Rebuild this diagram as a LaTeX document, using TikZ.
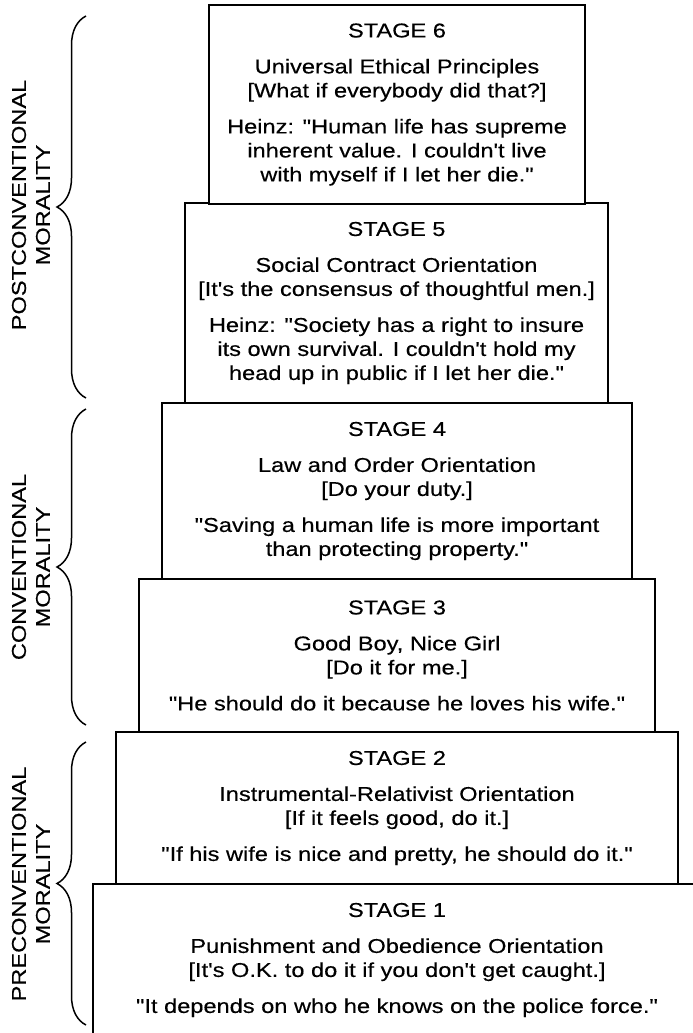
\documentclass[tikz,border=0pt]{standalone}
\usepackage{fontspec}
\newfontfamily\diagfont[FakeStretch=1.18,FakeBold=0.35]{Liberation Sans}
\usetikzlibrary{decorations.pathreplacing}
\begin{document}
\begin{tikzpicture}[x=1pt,y=-1pt,
  stagebox/.style={draw, line width=1.8pt, fill=white, align=center, inner sep=0pt,
    font=\diagfont\fontsize{20}{24}\selectfont},
  levellabel/.style={rotate=90, align=center, inner sep=0pt,
    font=\diagfont\fontsize{20}{24}\selectfont},
  levelbrace/.style={decorate, decoration={brace, amplitude=29pt}, line width=1.5pt}]
\path[use as bounding box] (0,0) rectangle (693,1033);
\clip (0,0) rectangle (693,1033);
\fill[white] (0,0) rectangle (693,1033);

% stages (bottom first so upper boxes sit on top)
\node[stagebox, minimum width=608pt, minimum height=152pt] (s1) at (397,960)
  {STAGE 1\\[12pt]Punishment and Obedience Orientation\\{[}It's O.K. to do it if you don't get caught.]\\[12pt]"It depends on who he knows on the police force."};
\node[stagebox, minimum width=562pt, minimum height=152pt] (s2) at (397,808)
  {STAGE 2\\[12pt]Instrumental-Relativist Orientation\\{[}If it feels good, do it.]\\[12pt]"If his wife is nice and pretty, he should do it."};
\node[stagebox, minimum width=516pt, minimum height=153pt] (s3) at (397,655.5)
  {STAGE 3\\[12pt]Good Boy, Nice Girl\\{[}Do it for me.]\\[12pt]"He should do it because he loves his wife."};
\node[stagebox, minimum width=470pt, minimum height=176pt] (s4) at (397,491)
  {STAGE 4\\[12pt]Law and Order Orientation\\{[}Do your duty.]\\[12pt]"Saving a human life is more important\\than protecting property."};
\node[stagebox, minimum width=423pt, minimum height=200pt] (s5) at (396.5,303)
  {STAGE 5\\[12pt]Social Contract Orientation\\{[}It's the consensus of thoughtful men.]\\[12pt]Heinz: "Society has a right to insure\\its own survival. I couldn't hold my\\head up in public if I let her die."};
\node[stagebox, minimum width=376pt, minimum height=199pt] (s6) at (397,104.5)
  {STAGE 6\\[12pt]Universal Ethical Principles\\{[}What if everybody did that?]\\[12pt]Heinz: "Human life has supreme\\inherent value. I couldn't live\\with myself if I let her die."};

% braces
\coordinate (postT) at (86,16);  \coordinate (postB) at (86,398);
\coordinate (convT) at (86,409); \coordinate (convB) at (86,725);
\coordinate (preT)  at (86,742); \coordinate (preB)  at (86,1025);
\draw[levelbrace] (postB) -- (postT);
\draw[levelbrace] (convB) -- (convT);
\draw[levelbrace] (preB) -- (preT);

% labels
\node[levellabel] (lpost) at (31,205) {POSTCONVENTIONAL\\MORALITY};
\node[levellabel] (lconv) at (31,567) {CONVENTIONAL\\MORALITY};
\node[levellabel] (lpre)  at (31,884) {PRECONVENTIONAL\\MORALITY};
\end{tikzpicture}
\end{document}
